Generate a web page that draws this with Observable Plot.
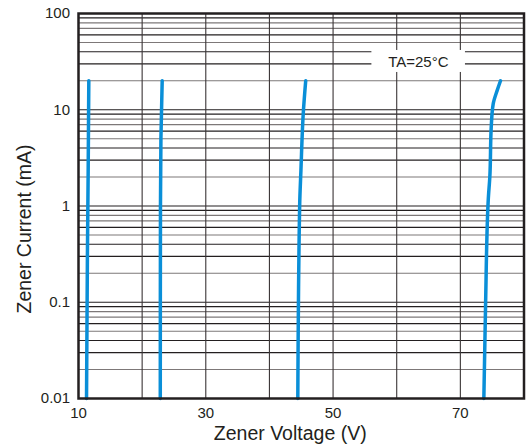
<!DOCTYPE html>
<html><head><meta charset="utf-8">
<script src="https://cdn.jsdelivr.net/npm/d3@7"></script>
<script src="https://cdn.jsdelivr.net/npm/@observablehq/plot@0.6"></script>
<style>body{margin:0;background:#fff;} svg{display:block}</style>
</head><body><div id="chart"></div>
<script>
// Tick values and labels
const xTicks = [10, 30, 50, 70];
const xGrid = [20, 30, 40, 50, 60, 70];
const yTicks = [0.01, 0.1, 1, 10, 100];
const yTickLabels = ["0.01", "0.1", "1", "10", "100"];
const decades = [0.01, 0.1, 1, 10];
const darkMultipliers = [1, 3, 4, 6, 9];
const grayMultipliers = [2, 5, 7, 8];

// Zener curves: [voltage V, current mA]
const curve11V = [[11.26, 0.01], [11.4, 0.3], [11.52, 2.3], [11.62, 20]];
const curve23V = [[22.85, 0.01], [22.88, 1], [22.95, 5], [23.15, 20]];
const curve45V = [[44.46, 0.01], [44.75, 1], [44.95, 2.35], [45.35, 10], [45.7, 20]];
const curve75V = [[73.69, 0.01], [73.97, 0.1], [74.38, 1.15], [74.63, 2], [74.85, 6.6], [75.16, 11.5], [75.79, 15.9], [76.31, 20]];
const seriesNames = ["11V", "23V", "45V", "75V"];
const seriesData = [curve11V, curve23V, curve45V, curve75V];

// Annotation
const noteText = ["TA=25°C"];
const noteBox = [{x1: 56.1, x2: 70.8, y1: 24.4, y2: 41.3, x: 63.4, y: 31.1}];

const points = seriesData.flatMap((arr, i) => arr.map(([v, c]) => ({series: seriesNames[i], v, c})));
const darkGrid = decades.flatMap(d => darkMultipliers.map(m => d * m)).filter(v => v > 0.01 && v < 100);
const grayGrid = decades.flatMap(d => grayMultipliers.map(m => d * m)).filter(v => v > 0.01 && v < 100);

const ink = "#231f20";
const chart = Plot.plot({
  width: 528,
  height: 444,
  marginLeft: 78,
  marginTop: 13,
  marginRight: 4.5,
  marginBottom: 46,
  style: {fontFamily: "'Liberation Sans', Arial, sans-serif", color: ink, background: "#fff"},
  x: {domain: [10, 80]},
  y: {type: "log", domain: [0.01, 100]},
  marks: [
    Plot.ruleY(grayGrid, {stroke: "#7d7878", strokeWidth: 1.1}),
    Plot.ruleY(darkGrid, {stroke: ink, strokeWidth: 1.1}),
    Plot.ruleX(xGrid, {stroke: "#3a3536", strokeWidth: 1.1}),
    Plot.rect(noteBox, {x1: "x1", x2: "x2", y1: "y1", y2: "y2", fill: "white"}),
    Plot.text(noteBox, {x: "x", y: "y", text: () => noteText[0], fontSize: 15, fill: ink}),
    Plot.line(points, {x: "v", y: "c", z: "series", stroke: "#0a8fd8", strokeWidth: 3.5, curve: "monotone-y", strokeLinecap: "round"}),
    Plot.frame({stroke: ink, strokeWidth: 2.5}),
    Plot.axisX({ticks: xTicks, tickSize: 0, tickPadding: 9, fontSize: 15, label: null, tickFormat: d => String(d)}),
    Plot.axisY({ticks: yTicks, tickSize: 0, tickPadding: 8.5, fontSize: 15, label: null, tickFormat: d => yTickLabels[yTicks.indexOf(d)]}),
    Plot.text(["Zener Voltage (V)"], {frameAnchor: "bottom", textAnchor: "middle", lineAnchor: "middle", dx: -11, dy: 35, fontSize: 19.5, fill: ink}),
    Plot.text(["Zener Current (mA)"], {frameAnchor: "left", textAnchor: "middle", lineAnchor: "middle", rotate: -90, dx: -54, dy: 23, fontSize: 19.5, fill: ink})
  ]
});
document.getElementById("chart").appendChild(chart);
</script>
</body></html>
